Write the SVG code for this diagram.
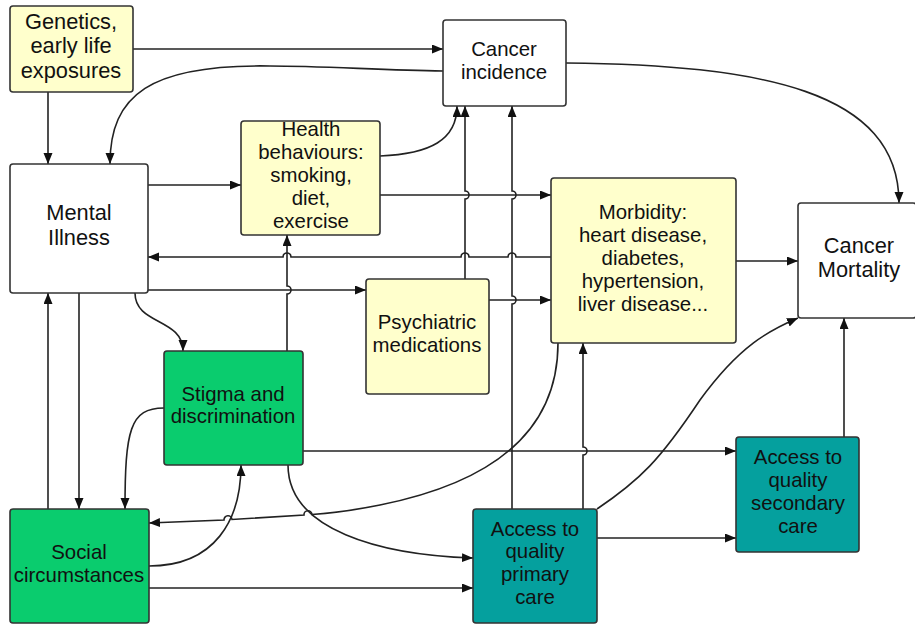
<svg xmlns="http://www.w3.org/2000/svg" width="915" height="628" viewBox="0 0 915 628">
<style>
.n{stroke:#333;stroke-width:1.6}
.y{fill:#FFFFCC}.w{fill:#FFFFFF}.g{fill:#0ACC6E}.t{fill:#05A09E}
text{font-family:"Liberation Sans",Arial,sans-serif;font-size:20.4px;fill:#111;text-anchor:middle}
.big text{font-size:21.8px}
.c path{fill:none;stroke:#222;stroke-width:1.6;marker-end:url(#ah)}
</style>
<defs>
<marker id="ah" markerUnits="userSpaceOnUse" markerWidth="12" markerHeight="10" refX="11" refY="4.5" orient="auto">
<path d="M0,0 L11,4.5 L0,9 z" fill="#111"/>
</marker>
</defs>
<rect width="915" height="628" fill="#fff"/>
<g class="c" id="connectors">
<path d="M133,49 L443,49"/>
<path d="M443,71 C380,70 320,66 270,66 C150,64 110,95 110,164"/>
<path d="M48,92 L48,164"/>
<path d="M148,185 L241,185"/>
<path d="M380,156 C430,154 457,140 457,106"/>
<path d="M380,195 L551,195"/>
<path d="M551,257 L516,257 a4,4 0 0 0 -8,0 L469,257 a4,4 0 0 0 -8,0 L291,257 a4,4 0 0 0 -8,0 L148,257"/>
<path d="M148,290 L366,290"/>
<path d="M489,300 L551,300"/>
<path d="M465,279 L465,199 a4,4 0 0 0 0,-8 L465,106"/>
<path d="M512,509 L512,304 a4,4 0 0 0 0,-8 L512,199 a4,4 0 0 0 0,-8 L512,106"/>
<path d="M287,351 L287,294 a4,4 0 0 0 0,-8 L287,235"/>
<path d="M135,293 C135,325 183,318 183,351"/>
<path d="M79,293 L79,509"/>
<path d="M48,509 L48,293"/>
<path d="M164,408 C130,408 125,430 125,509"/>
<path d="M149,566 C215,566 241,520 241,465"/>
<path d="M558,343 C558,440 480,485 380,505 C355,510 335,513 312,514.5 a4,4 0 0 0 -8,0.5 L232,519.5 a4,4 0 0 0 -8,0.5 L149,523"/>
<path d="M303,451 L736,451"/>
<path d="M288,465 C288,530 380,555 473,558"/>
<path d="M149,588 L473,588"/>
<path d="M583,509 L583,455 a4,4 0 0 0 0,-8 L583,343"/>
<path d="M597,509 C640,480 660,460 700,400 C740,345 770,330 798,318"/>
<path d="M597,538 L736,538"/>
<path d="M844,437 L844,318"/>
<path d="M736,261 L798,261"/>
<path d="M566,63 C760,65 899,90 899,203"/>
</g>
<g id="genetics" class="big"><rect class="n y" x="10" y="6" width="123" height="86" rx="3"/>
<text x="71" y="29">Genetics,</text><text x="71" y="53">early life</text><text x="71" y="77.5">exposures</text></g>
<g id="cancer-incidence"><rect class="n w" x="443" y="20" width="123" height="86" rx="3"/>
<text x="504" y="56">Cancer</text><text x="504" y="79">incidence</text></g>
<g id="mental-illness" class="big"><rect class="n w" x="10" y="164" width="138" height="129" rx="3"/>
<text x="79" y="220">Mental</text><text x="79" y="245">Illness</text></g>
<g id="health-behaviours"><rect class="n y" x="241" y="121" width="139" height="114" rx="3"/>
<text x="311" y="136">Health</text><text x="311" y="159">behaviours:</text><text x="311" y="182">smoking,</text><text x="311" y="205">diet,</text><text x="311" y="228">exercise</text></g>
<g id="morbidity"><rect class="n y" x="551" y="178" width="185" height="165" rx="3"/>
<text x="643" y="219">Morbidity:</text><text x="643" y="242">heart disease,</text><text x="643" y="265">diabetes,</text><text x="643" y="288">hypertension,</text><text x="643" y="311">liver disease...</text></g>
<g id="cancer-mortality" class="big"><rect class="n w" x="798" y="203" width="118" height="115" rx="3"/>
<text x="859" y="253">Cancer</text><text x="859" y="277">Mortality</text></g>
<g id="psychiatric-medications"><rect class="n y" x="366" y="279" width="123" height="115" rx="3"/>
<text x="427" y="329">Psychiatric</text><text x="427" y="352">medications</text></g>
<g id="stigma"><rect class="n g" x="164" y="351" width="139" height="114" rx="3"/>
<text x="233" y="401">Stigma and</text><text x="233" y="423">discrimination</text></g>
<g id="social-circumstances"><rect class="n g" x="10" y="509" width="139" height="114" rx="3"/>
<text x="79" y="559">Social</text><text x="79" y="582">circumstances</text></g>
<g id="primary-care"><rect class="n t" x="473" y="509" width="124" height="114" rx="3"/>
<text x="535" y="536">Access to</text><text x="535" y="558">quality</text><text x="535" y="581">primary</text><text x="535" y="604">care</text></g>
<g id="secondary-care"><rect class="n t" x="736" y="437" width="123" height="115" rx="3"/>
<text x="798" y="464">Access to</text><text x="798" y="487">quality</text><text x="798" y="510">secondary</text><text x="798" y="533">care</text></g>
</svg>
